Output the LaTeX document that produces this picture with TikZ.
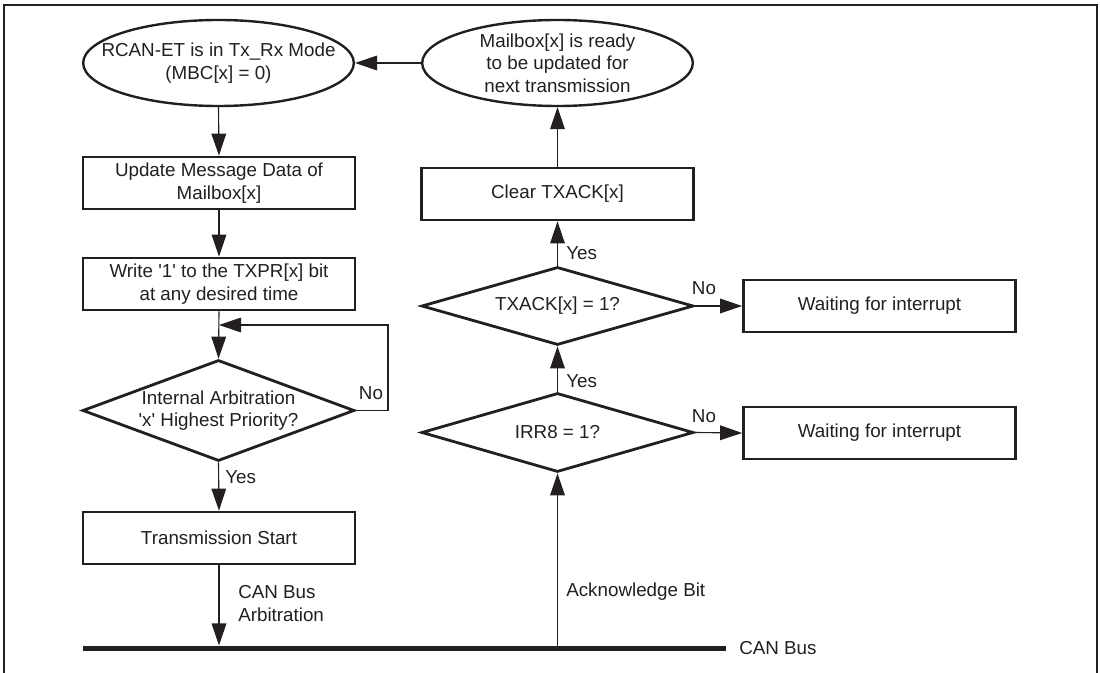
\documentclass[tikz,border=0pt]{standalone}
\usepackage{fontspec}
\setmainfont{Liberation Sans}
\usetikzlibrary{shapes.geometric,arrows.meta}
\definecolor{ink}{HTML}{231F20}
\begin{document}
\begin{tikzpicture}[x=0.75pt,y=-0.75pt,
  font=\fontsize{14.1}{17}\selectfont,
  every node/.style={text=ink},
  box/.style={draw=ink, line width=2.1pt, rectangle, minimum width=204pt, minimum height=39pt, inner sep=0pt, align=center},
  oval/.style={draw=ink, line width=1.8pt, ellipse, minimum width=203pt, minimum height=64.5pt, inner sep=0pt},
  dec/.style={draw=ink, line width=2.1pt, diamond, minimum width=204pt, inner sep=0pt},
  conn/.style={draw=ink, line width=0.85pt, -{Triangle[length=16.5pt,width=11pt]}},
  lbl/.style={inner sep=0pt},
  mid/.style={align=center, inner sep=0pt}
]
\useasboundingbox (0,0) rectangle (1100,673);
% frame
\draw[ink, line width=1.7pt] (4,673) -- (4,5) -- (1097,5) -- (1097,673);

% left column
\node[oval, label={[mid]center:{RCAN-ET is in Tx\_Rx Mode\\(MBC[x] = 0)}}] (m1) at (218.5,63) {};
\node[box] (b1) at (219,183) {Update Message Data of\\Mailbox[x]};
\node[box] (b2) at (219,284) {Write \textquotesingle 1\textquotesingle\ to the TXPR[x] bit\\at any desired time};
\node[dec, minimum height=75.75pt, label={[mid]center:{Internal Arbitration\\\textquotesingle x\textquotesingle\ Highest Priority?}}] (d1) at (218.5,410.5) {};
\node[box] (b3) at (219,538) {Transmission Start};

% right column
\node[oval, label={[mid]center:{Mailbox[x] is ready\\to be updated for\\next transmission}}] (m2) at (557.5,63) {};
\node[box] (b4) at (557.5,194) {Clear TXACK[x]};
\node[dec, minimum height=58.5pt, label={[mid]center:{TXACK[x] = 1?}}] (d2) at (557.5,306) {};
\node[dec, minimum height=59.25pt, label={[mid]center:{IRR8 = 1?}}] (d3) at (557.5,432.5) {};
\node[box] (w1) at (879.5,306) {Waiting for interrupt};
\node[box] (w2) at (879.5,433) {Waiting for interrupt};

% bus
\coordinate (busL) at (83,648);
\coordinate (busR) at (726,648);
\draw[ink, line width=3.75pt] (busL) -- (busR);
\node[lbl, anchor=west] (canbus) at (739,648) {CAN Bus};
\coordinate (ack) at (557.5,648);

% connectors
\draw[conn] (m2.west) -- (m1.east);
\draw[conn] (m1.south) -- (b1.north);
\draw[conn] (b1.south) -- (b2.north);
\draw[conn] (b2.south) -- (d1.north);
\coordinate (lc) at (388,325);
\draw[conn] (d1.east) -| (lc) -- (b2.south |- lc);
\draw[conn] (d1.south) -- (b3.north);
\draw[conn, shorten >=1.9pt] (b3.south) -- (b3.south |- busL);
\draw[conn] (ack) -- (d3.south);
\draw[conn] (d3.north) -- (d2.south);
\draw[conn] (d2.north) -- (b4.south);
\draw[conn] (b4.north) -- (m2.south);
\draw[conn] (d2.east) -- (w1.west);
\draw[conn] (d3.east) -- (w2.west);

% labels
\node[lbl, anchor=west] (y1) at (225,477) {Yes};
\node[lbl] (n1) at (371,393) {No};
\node[lbl, anchor=west, align=left] (cba) at (238,603.5) {CAN Bus\\Arbitration};
\node[lbl, anchor=west] (y2) at (566,253) {Yes};
\node[lbl, anchor=west] (y3) at (566,381) {Yes};
\node[lbl] (n2) at (704,288) {No};
\node[lbl] (n3) at (704,416) {No};
\node[lbl, anchor=west] (ackl) at (566,592) {Acknowledge Bit};
\end{tikzpicture}
\end{document}
